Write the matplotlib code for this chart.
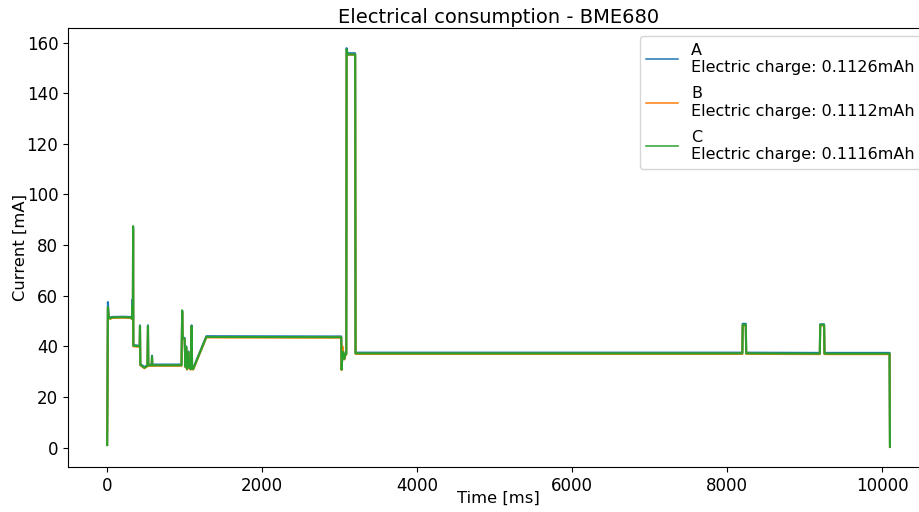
import matplotlib
matplotlib.use("Agg")
import matplotlib.pyplot as plt

# time stamps [ms] shared by the three measurements
time_ms = [0, 5, 10, 20, 40, 60, 200, 300, 320, 328, 332, 335, 338, 420, 424, 428,
           460, 480, 520, 527, 531, 575, 579, 583, 960, 968, 975, 1000, 1010, 1020,
           1030, 1050, 1060, 1080, 1090, 1096, 1110, 1280, 3020, 3025, 3035, 3045,
           3060, 3075, 3085, 3090, 3100, 3200, 3205, 8195, 8200, 8240, 8245, 9195,
           9200, 9250, 9255, 10095, 10100]

current_a = [1.0, 31.0, 57.5, 52.0, 51.2, 51.6, 51.7, 51.6, 51.2, 58.5, 51.0, 87.0, 40.5, 40.2, 48.3, 33.0,
             32.3, 31.8, 32.6, 48.3, 32.8, 32.8, 36.3, 32.8, 32.8, 54.0, 43.5, 43.3, 32.2, 40.0,
             31.2, 38.0, 31.6, 31.2, 48.3, 31.7, 31.3, 44.0, 43.9, 31.0, 36.2, 38.0,
             35.2, 37.2, 37.2, 157.8, 155.8, 155.8, 37.5, 37.5, 48.9, 48.9, 37.5, 37.4,
             48.7, 48.7, 37.4, 37.4, 0.3]

current_b = [1.0, 25.0, 55.0, 51.5, 50.8, 51.2, 51.3, 51.2, 50.8, 55.0, 50.5, 86.0, 40.0, 39.8, 47.8, 32.5,
             31.8, 31.3, 32.1, 47.8, 32.3, 32.3, 35.8, 32.3, 32.3, 53.5, 43.0, 42.8, 31.7, 39.5,
             30.8, 37.5, 31.2, 30.8, 47.8, 31.2, 30.8, 43.5, 43.4, 30.6, 40.0, 37.5,
             34.8, 36.7, 36.7, 156.0, 155.2, 155.2, 37.0, 37.0, 48.2, 48.2, 37.0, 36.9,
             48.2, 48.2, 36.9, 36.9, 0.2]

current_c = [1.0, 22.0, 55.5, 51.7, 51.0, 51.4, 51.5, 51.4, 51.0, 56.0, 50.7, 87.5, 40.2, 40.0, 48.0, 32.7,
             32.0, 31.5, 32.3, 48.0, 32.5, 32.5, 36.0, 32.5, 32.5, 54.2, 43.2, 43.0, 31.9, 39.7,
             31.0, 37.7, 31.4, 31.0, 48.0, 31.4, 31.0, 43.7, 43.6, 30.8, 35.9, 37.7,
             35.0, 36.9, 36.9, 157.3, 155.3, 155.3, 37.2, 37.2, 48.5, 48.5, 37.2, 37.1,
             48.5, 48.5, 37.1, 37.1, 0.3]

series_names = ["A", "B", "C"]
charges = ["0.1126mAh", "0.1112mAh", "0.1116mAh"]

fig = plt.figure(figsize=(9.2, 5.12), dpi=100)
ax = fig.add_axes([0.0739, 0.0879, 0.936, 0.857])

for name, q, vals in zip(series_names, charges, [current_a, current_b, current_c]):
    ax.plot(time_ms, vals, linewidth=1.5, label=f"{name}\nElectric charge: {q}")

ax.set_title("Electrical consumption - BME680", fontsize=14, pad=4)
ax.set_xlabel("Time [ms]", fontsize=11.8)
ax.set_ylabel("Current [mA]", fontsize=11.8)
ax.xaxis.set_label_coords(0.5, -0.054)
ax.yaxis.set_label_coords(-0.047, 0.5)
ax.tick_params(labelsize=12)
ax.set_xticks([0, 2000, 4000, 6000, 8000, 10000])
ax.set_yticks(range(0, 161, 20))
leg = ax.legend(loc="upper right", fontsize=11.5, labelspacing=0.7)
for h in leg.get_lines():
    h.set_linewidth(1.1)

fig.savefig("out.png", dpi=100)
